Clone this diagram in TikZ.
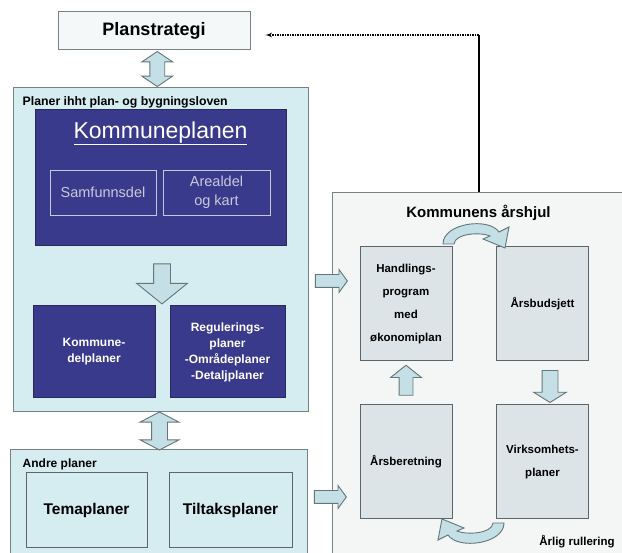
\documentclass[tikz,border=0pt]{standalone}
\usepackage{fontspec}
\setmainfont{Liberation Sans}
\usepackage{xcolor}
\usetikzlibrary{shapes, arrows, positioning, calc}
\definecolor{navy}{RGB}{58,58,140}
\definecolor{navyline}{RGB}{40,40,90}
\definecolor{cyanfill}{RGB}{213,236,241}
\definecolor{panelline}{RGB}{120,130,132}
\definecolor{wheelfill}{RGB}{244,245,245}
\definecolor{greyfill}{RGB}{221,228,232}
\definecolor{boxline}{RGB}{95,100,102}
\definecolor{arrowfill}{RGB}{196,223,229}
\definecolor{arrowline}{RGB}{100,118,122}
\definecolor{stratfill}{RGB}{245,248,248}
\definecolor{subtext}{RGB}{200,200,220}
\tikzstyle{panel}=[draw=panelline, fill=cyanfill, rectangle, line width=1pt, inner sep=0pt]
\tikzstyle{navybox}=[draw=navyline, fill=navy, rectangle, line width=1pt, text=white, align=center, font=\bfseries\fontsize{12}{16}\selectfont]
\tikzstyle{subbox}=[draw=subtext, fill=navy, rectangle, line width=0.8pt, text=subtext, align=center, font=\fontsize{14.5}{19}\selectfont]
\tikzstyle{cycbox}=[draw=boxline, fill=greyfill, rectangle, line width=1pt, align=center, font=\bfseries\fontsize{11.5}{23}\selectfont, minimum width=92pt, minimum height=114pt]
\tikzstyle{fat}=[single arrow, draw=arrowline, fill=arrowfill, line width=0.9pt, inner sep=0pt]
\tikzstyle{fatboth}=[double arrow, draw=arrowline, fill=arrowfill, line width=0.9pt, inner sep=0pt]
\tikzset{wheelturn/.pic={\draw[draw=arrowline, fill=arrowfill, line width=0.9pt] (-32,9) .. controls (-32,-12) and (14,-18) .. (24,-3) -- (34,-8) -- (30,13) -- (8,4) -- (15,1) .. controls (6,-3) and (-20,-2) .. (-21,9) -- cycle;}}

\begin{document}
\begin{tikzpicture}[x=1pt, y=-1pt]
	\useasboundingbox (0,0) rectangle (622,553);
	\node[draw=panelline, fill=stratfill, line width=1pt, minimum width=192pt, minimum height=38pt, font=\bfseries\fontsize{18}{20}\selectfont] (strat) at (154,31) {Planstrategi};
	% plan- og bygningsloven
	\node[panel, minimum width=295pt, minimum height=324pt] (lov) at (160.5,250) {};
	\node[below right=9pt and 10pt of lov.north west, inner sep=0pt, font=\bfseries\fontsize{12.3}{14}\selectfont] (lovtitle) {Planer ihht plan- og bygningsloven};
	\node[navybox, minimum width=251pt, minimum height=136pt] (kplan) at (160.5,178) {};
	\node[below=12pt of kplan.north, inner sep=0pt, text=white, font=\fontsize{23}{25}\selectfont] (kptitle) {\underline{Kommuneplanen}};
	\node[subbox, minimum width=106pt, minimum height=45pt] (samf) at (103,192.5) {Samfunnsdel};
	\node[subbox, minimum width=107pt, minimum height=45pt] (areal) at (216.5,192.5) {Arealdel\\og kart};
	\node[fat, rotate=-90, inner ysep=8pt, single arrow head extend=17pt, single arrow tip angle=102, minimum height=40pt] (kpdown) at ($(kplan.south)+(1.5,34)$) {};
	\node[navybox, minimum width=122pt, minimum height=92pt] (kdel) at (94,352) {Kommune-\\delplaner};
	\node[navybox, minimum width=115pt, minimum height=92pt] (regul) at (227.5,352) {Regulerings-\\planer\\-Områdeplaner\\-Detaljplaner};
	\node[fatboth, rotate=90, inner ysep=7pt, double arrow head extend=8pt, double arrow tip angle=112, minimum height=35pt] (stratlov) at ($(strat.south)!0.5!(lov.north)$) {};
	% andre planer
	\node[panel, minimum width=297pt, minimum height=110pt] (andre) at (158.5,505) {};
	\node[below right=9pt and 13pt of andre.north west, inner sep=0pt, font=\bfseries\fontsize{12}{14}\selectfont] (andretitle) {Andre planer};
	\node[panel, draw=boxline, minimum width=121pt, minimum height=75pt, font=\bfseries\fontsize{15.5}{18}\selectfont] (tema) at (86.5,510.5) {Temaplaner};
	\node[panel, draw=boxline, minimum width=123pt, minimum height=75pt, font=\bfseries\fontsize{15.5}{18}\selectfont] (tiltak) at (230.5,510.5) {Tiltaksplaner};
	\node[fatboth, rotate=90, inner ysep=7.5pt, double arrow head extend=11.5pt, double arrow tip angle=125, minimum height=38pt] (lovandre) at ($(lov.south)!0.5!(andre.north)$) {};
	% aarshjul
	\node[draw=panelline, fill=wheelfill, line width=1pt, minimum width=293pt, minimum height=367pt] (hjul) at (478.5,376.5) {};
	\node[below=12pt of hjul.north, inner sep=0pt, font=\bfseries\fontsize{15}{17}\selectfont] (hjultitle) {Kommunens årshjul};
	\node[cycbox] (handl) at (406,304) {Handlings-\\program\\med\\økonomiplan};
	\node[cycbox] (budsj) at (542.5,304) {Årsbudsjett};
	\node[cycbox] (beret) at (406,462) {Årsberetning};
	\node[cycbox] (virk) at (542.5,462) {Virksomhets-\\planer};
	\node[fat, rotate=90, inner ysep=6.5pt, single arrow head extend=8.5pt, single arrow tip angle=103, minimum height=30pt] (beretup) at ($(beret.north)!0.5!(handl.south)$) {};
	\node[fat, rotate=-90, inner ysep=7.5pt, single arrow head extend=8.5pt, single arrow tip angle=116, minimum height=32pt] (budsjdown) at ($(budsj.south)!0.5!(virk.north)+(7.5,1)$) {};
	\node[fat, inner ysep=6pt, single arrow head extend=5pt, single arrow tip angle=108, minimum height=32pt] (lovhjul) at (329,281) {};
	\node[fat, inner ysep=6pt, single arrow head extend=5pt, single arrow tip angle=108, minimum height=32pt] (andrehjul) at (328,497) {};
	\pic at (475,235) {wheelturn};
	\pic[rotate=180] at (472,532) {wheelturn};
	\node[font=\bfseries\fontsize{11.5}{14}\selectfont] (rull) at (577,542) {Årlig rullering};
	% tilbake til planstrategi
	\coordinate (turnpt) at ($(hjul.north |- strat.east)+(0,4)$);
	\coordinate (stratend) at ($(strat.east)+(15,0)$);
	\draw[line width=2pt, draw=black] (hjul.north) -- (turnpt);
	\draw[line width=1.2pt, dash pattern=on 1.5pt off 1pt, -latex'] (turnpt) -- (turnpt -| stratend);
\end{tikzpicture}
\end{document}
